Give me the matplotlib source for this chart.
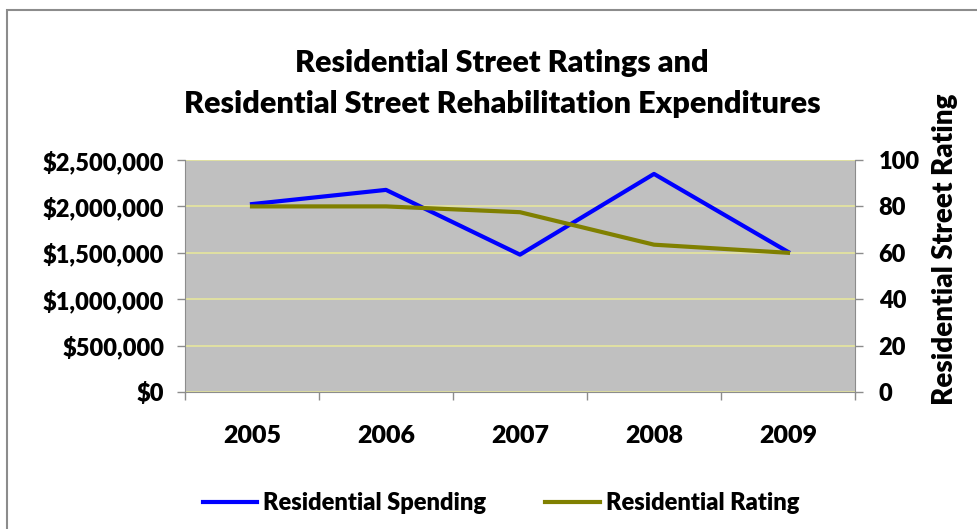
import matplotlib
matplotlib.use("Agg")
from matplotlib import pyplot as plt
from matplotlib.lines import Line2D
from matplotlib.patches import Rectangle
from matplotlib.ticker import FuncFormatter, FixedLocator

plt.rcParams["font.family"] = ["Lato", "DejaVu Sans"]
plt.rcParams["font.weight"] = "heavy"

# Street spending (dollars) and average street rating per year
years = ["2005", "2006", "2007", "2008", "2009"]
spending = [2025000, 2178000, 1480000, 2350000, 1510000]
rating = [80, 80, 77.5, 63.5, 60]

spend_color = "#0000FF"
rating_color = "#808000"
grid_color = "#E6E69C"
axis_color = "#8C8C8C"
tick_size = 17

fig = plt.figure(figsize=(9.77, 5.29), dpi=100)
fig.patches.append(Rectangle((7 / 977, -0.1), 1.2, 1 - 10 / 529 + 0.1,
                             transform=fig.transFigure, fill=False,
                             edgecolor="#8C8C8C", linewidth=1.5))

ax = fig.add_axes([185 / 977, 1 - 392 / 529, 670 / 977, 232 / 529])
ax.set_facecolor("#C0C0C0")
x = list(range(len(years)))
ax.plot(x, spending, color=spend_color, linewidth=3, zorder=3)
ax.set_xlim(-0.5, len(years) - 0.5)
ax.set_ylim(0, 2500000)
ax.set_yticks(range(0, 2500001, 500000))
ax.yaxis.set_major_formatter(FuncFormatter(lambda v, p: "${:,.0f}".format(v)))
ax.grid(axis="y", color=grid_color, linewidth=1.2)
ax.set_axisbelow(True)

ax.set_xticks(x)
ax.set_xticklabels(years)
ax.xaxis.set_minor_locator(FixedLocator([i - 0.5 for i in range(len(years) + 1)]))
ax.tick_params(axis="x", which="major", length=0, pad=24, labelsize=18)
ax.tick_params(axis="x", which="minor", length=6, width=1, color=axis_color)
ax.tick_params(axis="y", length=6, width=1, color=axis_color, pad=9, labelsize=tick_size)

for side in ["top", "right"]:
    ax.spines[side].set_visible(False)
for side in ["left", "bottom"]:
    ax.spines[side].set_color(axis_color)

ax2 = ax.twinx()
ax2.plot(x, rating, color=rating_color, linewidth=3, zorder=3)
ax2.set_ylim(0, 100)
ax2.set_yticks(range(0, 101, 20))
ax2.tick_params(axis="y", length=6, width=1, color=axis_color, pad=11, labelsize=tick_size)
for side in ["top", "left", "bottom"]:
    ax2.spines[side].set_visible(False)
ax2.spines["right"].set_color(axis_color)

fig.text(945 / 977, 1 - 249 / 529, "Residential Street Rating", rotation=90,
         ha="center", va="center", fontsize=20)

fig.text(502 / 977, 1 - 63 / 529, "Residential Street Ratings and",
         ha="center", va="center", fontsize=22)
fig.text(502 / 977, 1 - 104 / 529, "Residential Street Rehabilitation Expenditures",
         ha="center", va="center", fontsize=22)

handles = [Line2D([], [], color=spend_color, linewidth=3),
           Line2D([], [], color=rating_color, linewidth=3)]
fig.legend(handles, ["Residential Spending", "Residential Rating"],
           loc="center", bbox_to_anchor=(501 / 977, 1 - 503 / 529), ncol=2,
           frameon=False, fontsize=17, handlelength=2.3,
           handletextpad=0.25, columnspacing=2.5)

fig.savefig("out.png", dpi=100)
